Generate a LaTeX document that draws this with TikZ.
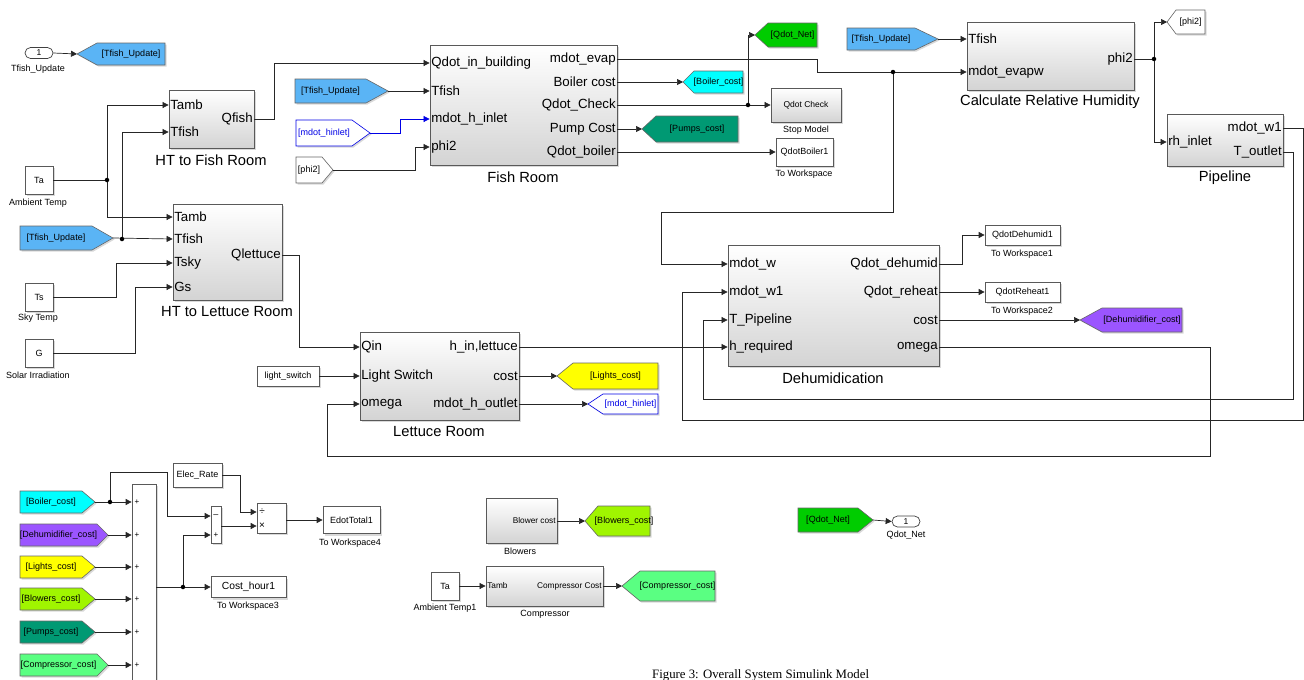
\documentclass[tikz,border=0pt]{standalone}
\usepackage{fontspec}
\setmainfont{Liberation Sans}
\newfontfamily\capfont{Liberation Serif}
\usetikzlibrary{arrows.meta,shadows,calc}
\definecolor{gblue}{RGB}{90,180,245}
\definecolor{gcyan}{RGB}{0,255,255}
\definecolor{ggreen}{RGB}{0,204,0}
\definecolor{gteal}{RGB}{0,153,115}
\definecolor{gpurple}{RGB}{155,85,255}
\definecolor{gyellow}{RGB}{255,255,0}
\definecolor{glime}{RGB}{160,245,0}
\definecolor{glgreen}{RGB}{90,255,130}
\definecolor{sblue}{RGB}{0,0,230}
\newcommand{\fsz}[1]{\fontsize{#1}{#1}\selectfont}
% goto: tip on the left
\newcommand{\gotoW}[8]{%
  \path[gbox,#7] (#2,#5) -- (#3,#5-#6) -- (#4,#5-#6) -- (#4,#5+#6) -- (#3,#5+#6) -- cycle;
  \node[gtxt] (#1) at ({(#3+#4)/2},#5) {#8};
  \coordinate (#1-tip) at (#2,#5);}
% from: tip on the right
\newcommand{\fromE}[8]{%
  \path[gbox,#7] (#2,#5-#6) -- (#3,#5-#6) -- (#4,#5) -- (#3,#5+#6) -- (#2,#5+#6) -- cycle;
  \node[gtxt] (#1) at ({(#2+#3)/2},#5) {#8};
  \coordinate (#1-tip) at (#4,#5);}
\begin{document}
\begin{tikzpicture}[x=1pt,y=-1pt,
  shad/.style={drop shadow={shadow xshift=2pt,shadow yshift=-2pt,opacity=0.3}},
  sub/.style={draw=black!65, line width=0.8pt, top color=white, bottom color=black!17, shad, inner sep=0pt},
  wblk/.style={draw=black!65, line width=0.7pt, fill=white, shad, inner sep=0pt, font=\fsz{9}},
  gbox/.style={draw=black!60, line width=0.6pt, drop shadow={shadow xshift=1.5pt,shadow yshift=-1.5pt,opacity=0.3}},
  gtxt/.style={font=\fsz{9}, inner sep=0pt},
  wire/.style={draw=black!85, line width=0.7pt},
  arr/.style={wire, -{Triangle[length=6pt,width=6pt]}},
  pin/.style={font=\fsz{13.3}, inner sep=1.5pt, anchor=west},
  pout/.style={font=\fsz{13.3}, inner sep=1.5pt, anchor=east},
  spin/.style={font=\fsz{8.3}, inner sep=1.5pt, anchor=west},
  spout/.style={font=\fsz{8.3}, inner sep=1.5pt, anchor=east},
  ttl/.style={font=\fsz{14.7}, inner sep=0pt},
  lbl/.style={font=\fsz{9}, inner sep=0pt},
  jdot/.style={circle, fill=black, inner sep=0pt, minimum size=4.5pt},
  oval/.style={draw=black!75, line width=0.7pt, fill=white, rounded corners=5.5pt, minimum width=28, minimum height=11, inner sep=0pt, font=\fsz{8.5}},
]
\useasboundingbox (0,0) rectangle (1304,680);
\clip (0,0) rectangle (1304,680);

% ---------------- blocks ----------------
\node[sub, minimum width=85, minimum height=58] (htf) at (211.5,119) {};
\node[sub, minimum width=109, minimum height=96] (htl) at (227.5,252) {};
\node[sub, minimum width=187, minimum height=120] (fish) at (523.5,105) {};
\node[sub, minimum width=167, minimum height=68] (rh) at (1050.5,56) {};
\node[sub, minimum width=116, minimum height=52] (pipe) at (1225,140) {};
\node[sub, minimum width=211, minimum height=121] (dh) at (833.5,305.5) {};
\node[sub, minimum width=159, minimum height=88] (let) at (439.5,376) {};
\node[sub, minimum width=71, minimum height=45] (blow) at (521.5,520.5) {};
\node[sub, minimum width=117, minimum height=40] (comp) at (544.5,586) {};
\node[sub, minimum width=70, minimum height=34, font=\fsz{8.5}] (stop) at (806,105) {Qdot Check};

\node[wblk, minimum width=57, minimum height=28] (wsB) at (804.5,152) {QdotBoiler1};
\node[wblk, minimum width=75, minimum height=20] (wsD) at (1022.5,235) {QdotDehumid1};
\node[wblk, minimum width=75, minimum height=20] (wsR) at (1022.5,292) {QdotReheat1};
\node[wblk, minimum width=57, minimum height=27] (wsE) at (351.5,520) {EdotTotal1};
\node[wblk, minimum width=75, minimum height=21, font=\fsz{10.3}] (wsC) at (248.5,587) {Cost\_hour1};
\node[wblk, minimum width=49, minimum height=24] (cER) at (197.5,475) {Elec\_Rate};
\node[wblk, minimum width=24, minimum height=236] (sum) at (144,602) {};
\node[wblk, minimum width=10, minimum height=37] (sum2) at (216,524.5) {};
\node[wblk, minimum width=29, minimum height=30] (prod) at (271.5,518) {};
\node[wblk, minimum width=28, minimum height=28] (cTa) at (39,180) {Ta};
\node[wblk, minimum width=28, minimum height=28] (cTs) at (39,297) {Ts};
\node[wblk, minimum width=28, minimum height=28] (cG) at (39,353) {G};
\node[wblk, minimum width=62, minimum height=20] (cLS) at (288,376) {light\_switch};
\node[wblk, minimum width=28, minimum height=28] (cTa1) at (445,586) {Ta};
\node[oval] (inTF) at (39,53) {1};
\node[oval] (outQN) at (906,521.5) {1};

% ---------------- gotos / froms ----------------
\gotoW{gTF1}{77}{97}{165}{54}{11}{fill=gblue}{[Tfish\_Update]}
\fromE{fTF2}{20}{92}{113}{238}{12}{fill=gblue}{[Tfish\_Update]}
\fromE{fTF1}{295}{366}{388}{91}{12}{fill=gblue}{[Tfish\_Update]}
\fromE{fMH}{296}{352}{370}{133}{13}{fill=white,draw=sblue}{\color{sblue}[mdot\_hinlet]}
\fromE{fP2}{296}{322}{333}{170}{13}{fill=white}{[phi2]}
\fromE{fTF3}{847}{915}{938}{39}{11}{fill=gblue}{[Tfish\_Update]}
\gotoW{gQN}{755}{768}{817}{35}{12}{fill=ggreen}{[Qdot\_Net]}
\gotoW{gBC}{683}{694}{743}{82}{11}{fill=gcyan}{[Boiler\_cost]}
\gotoW{gPC}{642}{656}{738}{129}{13}{fill=gteal}{[Pumps\_cost]}
\gotoW{gP2}{1167}{1176}{1205}{22}{12}{fill=white}{[phi2]}
\gotoW{gDC}{1080}{1102}{1182}{320}{12}{fill=gpurple}{[Dehumidifier\_cost]}
\gotoW{gLC}{557}{573}{658}{376}{13}{fill=gyellow}{[Lights\_cost]}
\gotoW{gMH}{588}{603}{658}{404}{10}{fill=white,draw=sblue}{\color{sblue}[mdot\_hinlet]}
\gotoW{gBL}{585}{598}{650}{521}{15}{fill=glime}{[Blowers\_cost]}
\gotoW{gCC}{622}{640}{715}{586}{15}{fill=glgreen}{[Compressor\_cost]}
\fromE{fBC}{20}{82}{95}{502}{11}{fill=gcyan}{[Boiler\_cost]}
\fromE{fDC}{20}{97}{108}{535}{11}{fill=gpurple}{[Dehumidifier\_cost]}
\fromE{fLC}{20}{82}{95}{567}{11}{fill=gyellow}{[Lights\_cost]}
\fromE{fBL}{20}{82}{95}{599}{11}{fill=glime}{[Blowers\_cost]}
\fromE{fPC}{20}{82}{95}{632}{11}{fill=gteal}{[Pumps\_cost]}
\fromE{fCC}{20}{97}{108}{665}{11}{fill=glgreen}{[Compressor\_cost]}
\fromE{fQN}{798}{858}{873}{520}{12}{fill=ggreen}{[Qdot\_Net]}

% ---------------- port labels ----------------
\node[pin] at (htf.west|-0,105) {Tamb};
\node[pin] at (htf.west|-0,132) {Tfish};
\node[pout] at (htf.east|-0,119) {Qfish};
\node[pin] at (htl.west|-0,217) {Tamb};
\node[pin] at (htl.west|-0,239) {Tfish};
\node[pin] at (htl.west|-0,263) {Tsky};
\node[pin] at (htl.west|-0,287) {Gs};
\node[pout] at (htl.east|-0,255) {Qlettuce};
\node[pin] at (fish.west|-0,63) {Qdot\_in\_building};
\node[pin] at (fish.west|-0,91) {Tfish};
\node[pin] at (fish.west|-0,119) {mdot\_h\_inlet};
\node[pin] at (fish.west|-0,147) {phi2};
\node[pout] at (fish.east|-0,59) {mdot\_evap};
\node[pout] at (fish.east|-0,82) {Boiler cost};
\node[pout] at (fish.east|-0,105) {Qdot\_Check};
\node[pout] at (fish.east|-0,129) {Pump Cost};
\node[pout] at (fish.east|-0,152) {Qdot\_boiler};
\node[pin] at (rh.west|-0,39) {Tfish};
\node[pin] at (rh.west|-0,72) {mdot\_evapw};
\node[pout] at (rh.east|-0,59) {phi2};
\node[pin] at (pipe.west|-0,142) {rh\_inlet};
\node[pout] at (pipe.east|-0,128) {mdot\_w1};
\node[pout] at (pipe.east|-0,152) {T\_outlet};
\node[pin] at (dh.west|-0,264) {mdot\_w};
\node[pin] at (dh.west|-0,292) {mdot\_w1};
\node[pin] at (dh.west|-0,320) {T\_Pipeline};
\node[pin] at (dh.west|-0,347) {h\_required};
\node[pout] at (dh.east|-0,264) {Qdot\_dehumid};
\node[pout] at (dh.east|-0,292) {Qdot\_reheat};
\node[pout] at (dh.east|-0,320) {cost};
\node[pout] at (dh.east|-0,347) {omega};
\node[pin] at (let.west|-0,347) {Qin};
\node[pin] at (let.west|-0,376) {Light Switch};
\node[pin] at (let.west|-0,404) {omega};
\node[pout] at (let.east|-0,347) {h\_in,lettuce};
\node[pout] at (let.east|-0,376) {cost};
\node[pout] at (let.east|-0,404) {mdot\_h\_outlet};
\node[spout] at (blow.east|-0,521) {Blower cost};
\node[spin] at (comp.west|-0,586) {Tamb};
\node[spout] at (comp.east|-0,586) {Compressor Cost};
\foreach \yy in {502,535,567,599,632,665} \node[font=\fsz{8}, inner sep=0pt] at (137,\yy) {+};
\node[font=\fsz{9}, inner sep=0pt] at (216,516) {--};
\node[font=\fsz{8}, inner sep=0pt] at (216,535) {+};
\node[font=\fsz{10}, inner sep=0pt] at (262,512) {÷};
\node[font=\fsz{10}, inner sep=0pt] at (262,526) {×};

% ---------------- titles and labels ----------------
\node[ttl] at (211,160) {HT to Fish Room};
\node[ttl] at (227,312) {HT to Lettuce Room};
\node[ttl] at (523,177) {Fish Room};
\node[ttl] at (1050,102) {Calculate Relative Humidity};
\node[ttl] at (1225,178) {Pipeline};
\node[ttl] at (833,378) {Dehumidication};
\node[ttl] at (439,432) {Lettuce Room};
\node[lbl] at (520,551) {Blowers};
\node[lbl] at (545,614) {Compressor};
\node[lbl] at (806,130) {Stop Model};
\node[lbl] at (804,174) {To Workspace};
\node[lbl] at (1022,254) {To Workspace1};
\node[lbl] at (1022,311) {To Workspace2};
\node[lbl] at (248,606) {To Workspace3};
\node[lbl] at (350,543) {To Workspace4};
\node[lbl] at (38,203) {Ambient Temp};
\node[lbl] at (38,318) {Sky Temp};
\node[lbl] at (38,375) {Solar Irradiation};
\node[lbl] at (445,608) {Ambient Temp1};
\node[lbl] at (38,69) {Tfish\_Update};
\node[lbl] at (906,535) {Qdot\_Net};
\node[font=\capfont\fsz{12.8}, inner sep=0pt, anchor=base west] at (652,678.5) {Figure 3: Overall System Simulink Model};

% ---------------- junctions ----------------
\coordinate (jTa) at (107,180);
\coordinate (jTF) at (122,239);
\coordinate (jEv) at (893,72);
\coordinate (jQC) at (748,105);
\coordinate (jP) at (1154,59);
\coordinate (jBC) at (110,502);
\coordinate (jS) at (183,587);

% ---------------- connectors ----------------
\draw[arr] (inTF.east) -- (gTF1-tip);
\draw[wire] (cTa.east) -- (jTa);
\draw[arr] (jTa) |- (htf.west|-0,105);
\draw[arr] (jTa) |- (htl.west|-0,217);
\draw[arr] (fTF2-tip) -- (htl.west|-0,239);
\draw[arr] (jTF) |- (htf.west|-0,132);
\draw[arr] (cTs.east) -- ++(63,0) |- (htl.west|-0,263);
\draw[arr] (cG.east) -- ++(82,0) |- (htl.west|-0,287);
\draw[arr] (htf.east) -- (274,119) |- (fish.west|-0,63);
\draw[arr] (htl.east|-0,255) -- (299,255) |- (let.west|-0,347);
\draw[arr] (fTF1-tip) -- (fish.west|-0,91);
\draw[arr, draw=sblue] (fMH-tip) -- (400,133) |- (fish.west|-0,119);
\draw[arr] (fP2-tip) -- (415,170) |- (fish.west|-0,147);
\draw[arr] (fish.east|-0,59) -- (817,59) |- (rh.west|-0,72);
\draw[arr] (jEv) -- (893,212) -- (661,212) |- (dh.west|-0,264);
\draw[arr] (fish.east|-0,82) -- (gBC-tip);
\draw[arr] (fish.east|-0,105) -- (stop.west);
\draw[arr] (jQC) |- (gQN-tip);
\draw[arr] (fish.east|-0,129) -- (gPC-tip);
\draw[arr] (fish.east|-0,152) -- (wsB.west);
\draw[arr] (fTF3-tip) -- (rh.west|-0,39);
\draw[wire] (rh.east|-0,59) -- (jP);
\draw[arr] (jP) |- (gP2-tip);
\draw[arr] (jP) |- (pipe.west|-0,142);
\draw[arr] (pipe.east|-0,128) -- (1303,128) -- (1303,420) -- (682,420) |- (dh.west|-0,292);
\draw[arr] (pipe.east|-0,152) -- (1293,152) -- (1293,399) -- (703,399) |- (dh.west|-0,320);
\draw[arr] (dh.east|-0,264) -- (962,264) |- (wsD.west);
\draw[arr] (dh.east|-0,292) -- (wsR.west);
\draw[arr] (dh.east|-0,320) -- (gDC-tip);
\draw[arr] (dh.east|-0,347) -- (1210,347) -- (1210,456) -- (327,456) |- (let.west|-0,404);
\draw[arr] (let.east|-0,347) -- (dh.west|-0,347);
\draw[arr] (cLS.east) -- (let.west|-0,376);
\draw[arr] (let.east|-0,376) -- (gLC-tip);
\draw[arr] (let.east|-0,404) -- (gMH-tip);
\draw[arr] (fBC-tip) -- (sum.west|-0,502);
\draw[arr] (fDC-tip) -- (sum.west|-0,535);
\draw[arr] (fLC-tip) -- (sum.west|-0,567);
\draw[arr] (fBL-tip) -- (sum.west|-0,599);
\draw[arr] (fPC-tip) -- (sum.west|-0,632);
\draw[arr] (fCC-tip) -- (sum.west|-0,665);
\draw[arr] (jBC) -- (110,472) -- (167,472) |- (sum2.west|-0,516);
\draw[arr] (sum.east|-0,587) -- (wsC.west);
\draw[arr] (jS) |- (sum2.west|-0,535);
\draw[arr] (sum2.east|-0,526) -- (prod.west|-0,526);
\draw[arr] (cER.east) -- (240,475) |- (prod.west|-0,512);
\draw[arr] (prod.east|-0,520) -- (wsE.west);
\draw[arr] (blow.east|-0,521) -- (gBL-tip);
\draw[arr] (cTa1.east) -- (comp.west|-0,586);
\draw[arr] (comp.east|-0,586) -- (gCC-tip);
\draw[arr] (fQN-tip) -- (outQN.west);

\foreach \j in {jTa,jTF,jEv,jQC,jP,jBC,jS} \node[jdot] at (\j) {};
\end{tikzpicture}
\end{document}
